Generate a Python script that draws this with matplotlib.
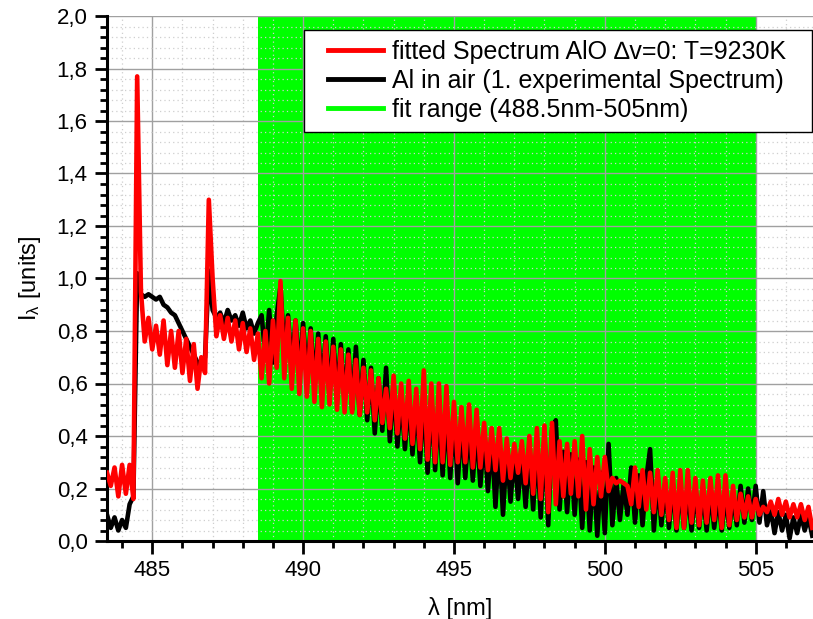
import numpy as np
import matplotlib
matplotlib.use('Agg')
import matplotlib.pyplot as plt
from matplotlib.lines import Line2D
from matplotlib.patches import Rectangle
from matplotlib.ticker import MultipleLocator, FuncFormatter

plt.rcParams.update({
    'font.family': ['Liberation Sans', 'DejaVu Sans'],
    'mathtext.default': 'regular',
    'font.size': 16,
})

# wavelength grid (nm): start and step, one value per sample below
wl_start = 483.5
wl_step = 0.125

# fitted AlO spectrum, one row = 1 nm
fitted = [
    0.26, 0.21, 0.28, 0.17, 0.29, 0.18, 0.29, 0.16,
    1.77, 0.95, 0.76, 0.85, 0.73, 0.82, 0.71, 0.84,
    0.67, 0.80, 0.66, 0.80, 0.64, 0.77, 0.61, 0.75,
    0.58, 0.70, 0.64, 1.30, 1.00, 0.78, 0.86, 0.77,
    0.85, 0.76, 0.84, 0.73, 0.83, 0.72, 0.81, 0.69,
    0.79, 0.62, 0.80, 0.60, 0.84, 0.66, 0.99, 0.62,
    0.85, 0.58, 0.84, 0.56, 0.81, 0.55, 0.80, 0.53,
    0.77, 0.51, 0.76, 0.52, 0.74, 0.50, 0.73, 0.49,
    0.71, 0.49, 0.69, 0.48, 0.66, 0.49, 0.65, 0.46,
    0.62, 0.45, 0.58, 0.43, 0.63, 0.41, 0.60, 0.39,
    0.61, 0.37, 0.58, 0.35, 0.65, 0.31, 0.60, 0.30,
    0.60, 0.30, 0.59, 0.29, 0.53, 0.30, 0.51, 0.30,
    0.52, 0.28, 0.50, 0.28, 0.45, 0.27, 0.43, 0.27,
    0.43, 0.23, 0.39, 0.24, 0.37, 0.26, 0.38, 0.22,
    0.40, 0.18, 0.43, 0.16, 0.44, 0.11, 0.45, 0.14,
    0.38, 0.17, 0.37, 0.18, 0.38, 0.17, 0.40, 0.12,
    0.35, 0.14, 0.32, 0.17, 0.32, 0.19, 0.24, 0.22,
    0.23, 0.22, 0.21, 0.14, 0.28, 0.13, 0.27, 0.12,
    0.26, 0.11, 0.27, 0.10, 0.24, 0.08, 0.26, 0.05,
    0.27, 0.05, 0.27, 0.07, 0.24, 0.06, 0.23, 0.07,
    0.24, 0.08, 0.25, 0.05, 0.25, 0.06, 0.21, 0.08,
    0.18, 0.09, 0.17, 0.09, 0.16, 0.10, 0.13, 0.11,
    0.15, 0.10, 0.16, 0.10, 0.15, 0.09, 0.14, 0.09,
    0.14, 0.08, 0.13, 0.05,
]

# Al in air, experimental spectrum
measured = [
    0.10, 0.05, 0.09, 0.04, 0.08, 0.05, 0.14, 0.17,
    1.02, 0.94, 0.93, 0.94, 0.93, 0.92, 0.93, 0.90,
    0.89, 0.87, 0.86, 0.83, 0.80, 0.77, 0.74, 0.71,
    0.68, 0.66, 0.70, 1.03, 0.88, 0.85, 0.87, 0.83,
    0.88, 0.84, 0.86, 0.82, 0.87, 0.81, 0.84, 0.79,
    0.83, 0.86, 0.70, 0.88, 0.68, 0.86, 0.97, 0.72,
    0.86, 0.66, 0.84, 0.64, 0.83, 0.62, 0.81, 0.60,
    0.79, 0.58, 0.78, 0.56, 0.77, 0.55, 0.75, 0.53,
    0.73, 0.50, 0.74, 0.48, 0.69, 0.46, 0.66, 0.41,
    0.62, 0.42, 0.66, 0.38, 0.60, 0.36, 0.56, 0.35,
    0.55, 0.33, 0.54, 0.30, 0.56, 0.26, 0.55, 0.27,
    0.52, 0.25, 0.50, 0.24, 0.48, 0.22, 0.46, 0.24,
    0.45, 0.23, 0.44, 0.21, 0.41, 0.19, 0.40, 0.13,
    0.38, 0.10, 0.35, 0.15, 0.34, 0.16, 0.33, 0.13,
    0.35, 0.12, 0.38, 0.09, 0.40, 0.06, 0.42, 0.46,
    0.12, 0.34, 0.11, 0.33, 0.10, 0.31, 0.05, 0.30,
    0.04, 0.28, 0.02, 0.26, 0.03, 0.37, 0.06, 0.24,
    0.08, 0.22, 0.10, 0.28, 0.07, 0.25, 0.06, 0.24,
    0.35, 0.04, 0.24, 0.06, 0.22, 0.05, 0.22, 0.04,
    0.21, 0.05, 0.20, 0.04, 0.20, 0.05, 0.19, 0.04,
    0.19, 0.05, 0.18, 0.04, 0.18, 0.05, 0.17, 0.06,
    0.21, 0.07, 0.20, 0.08, 0.21, 0.07, 0.19, 0.06,
    0.12, 0.03, 0.11, 0.04, 0.10, 0.01, 0.09, 0.03,
    0.10, 0.04, 0.09, 0.02,
]

fit_range = (488.5, 505.0)

n = min(len(fitted), len(measured))
wl = wl_start + wl_step * np.arange(n)

W, H = 813, 619
fig = plt.figure(figsize=(W / 100, H / 100), dpi=100)
ax = fig.add_axes([107 / W, 1 - 541 / H, 1 - 107 / W, (541 - 16) / H])

ax.axvspan(*fit_range, color='#00ff00', zorder=0.1, lw=0)
ax.plot(wl, measured[:n], color='black', lw=3.3, zorder=2)
ax.plot(wl, fitted[:n], color='red', lw=3.3, zorder=3)

ax.set_xlim(483.5, 506.9)
ax.set_ylim(0, 2.0)
ax.xaxis.set_major_locator(MultipleLocator(5))
ax.xaxis.set_minor_locator(MultipleLocator(1))
ax.yaxis.set_major_locator(MultipleLocator(0.2))
ax.yaxis.set_minor_locator(MultipleLocator(0.04))
ax.yaxis.set_major_formatter(FuncFormatter(lambda v, p: f'{v:.1f}'.replace('.', ',')))

ax.set_axisbelow(True)
ax.grid(which='major', color='#a0a0a0', lw=1.0, ls='-')
ax.grid(which='minor', color='#cfcfcf', lw=0.9, ls=(0, (1, 2.5)))

for s in ['top', 'right']:
    ax.spines[s].set_visible(False)
for s in ['left', 'bottom']:
    ax.spines[s].set_linewidth(2.2)
ax.tick_params(which='major', direction='out', length=9, width=2, labelsize=16, pad=5)
ax.tick_params(which='minor', direction='out', length=5, width=2)

ax.set_xlabel('λ [nm]', fontsize=17, labelpad=11)
ax.set_ylabel('I$_{λ}$ [units]', fontsize=17, labelpad=10)

# legend frame drawn separately so the padding matches the original box
ax.add_patch(Rectangle((304 / W, 1 - 132 / H), (812 - 304) / W, (132 - 30) / H,
                       transform=fig.transFigure, facecolor='white', clip_on=False,
                       edgecolor='black', lw=1.0, zorder=4))

handles = [
    Line2D([], [], color='red', lw=3.5),
    Line2D([], [], color='black', lw=3.5),
    Line2D([], [], color='#00ff00', lw=3.5),
]
labels = [
    'fitted Spectrum AlO \u2206v=0: T=9230K',
    'Al in air (1. experimental Spectrum)',
    'fit range (488.5nm-505nm)',
]
leg = ax.legend(handles, labels, loc='upper left', bbox_to_anchor=(328 / W, 1 - 40 / H),
                bbox_transform=fig.transFigure, borderaxespad=0, borderpad=0,
                fontsize=18, frameon=False, handlelength=2.2,
                labelspacing=0.2, handletextpad=0.35)
leg.set_zorder(5)

fig.savefig('out.png', dpi=100)
